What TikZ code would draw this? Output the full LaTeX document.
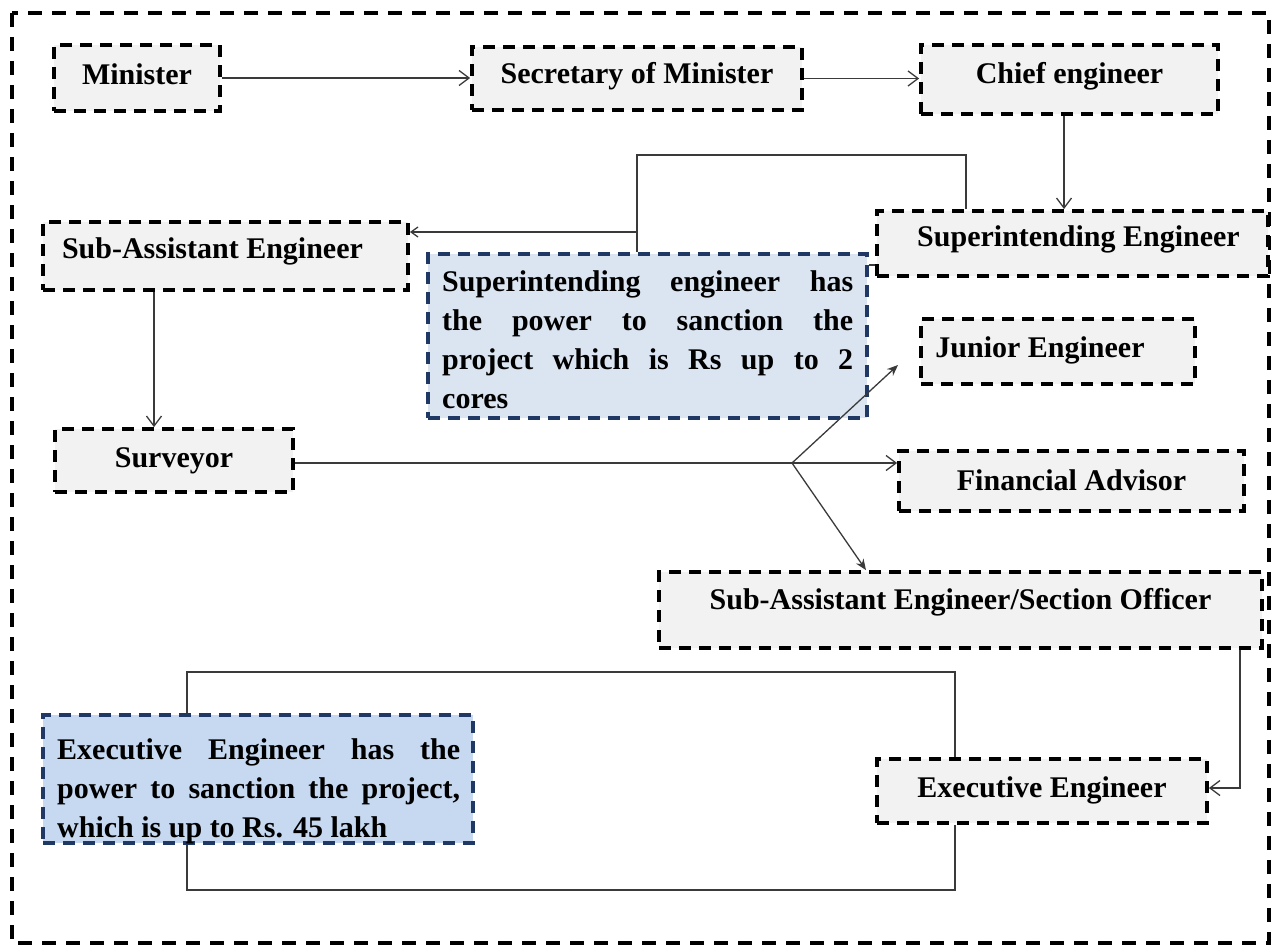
\documentclass[tikz,border=0pt]{standalone}
\usepackage{fontspec}
\setmainfont{Liberation Serif}
\usetikzlibrary{arrows.meta,calc}
\definecolor{boxgray}{HTML}{F2F2F2}
\definecolor{noteA}{HTML}{DBE5F1}
\definecolor{noteB}{HTML}{C6D9F1}
\definecolor{navy}{HTML}{1F3864}
\definecolor{linegray}{HTML}{3A3A3A}
\begin{document}
\begin{tikzpicture}[x=1pt,y=-1pt,
  gbox/.style={draw=black, line width=3.8pt, dash pattern=on 12pt off 8pt, fill=boxgray, inner sep=0pt},
  bbox/.style={draw=navy, line width=3.5pt, dash pattern=on 12pt off 8pt, fill=#1, inner sep=0pt},
  lbl/.style={font=\fontsize{30}{36}\selectfont\bfseries, inner sep=0pt},
  notetext/.style={font=\fontsize{30}{39}\selectfont\bfseries, inner sep=0pt, align=left, anchor=north west},
  conn/.style={draw=linegray, line width=1.3pt},
  arr/.style={conn, -{Straight Barb[length=10pt,width=15pt]}},
  arrs/.style={conn, -{Stealth[length=11pt,width=9pt]}},
]
\useasboundingbox (0,0) rectangle (1274,947);
\draw[line width=3.8pt, dash pattern=on 14pt off 10pt] (12,13) rectangle (1269,943);

% boxes
\node[gbox, minimum width=166pt, minimum height=66pt, label={[lbl,yshift=4pt]center:Minister}] (min) at (137,78) {};
\node[gbox, minimum width=330pt, minimum height=63pt, label={[lbl,yshift=2pt]center:Secretary of Minister}] (sec) at (637,78.5) {};
\node[gbox, minimum width=297pt, minimum height=69pt, label={[lbl,yshift=3pt]center:Chief engineer}] (chief) at (1069.5,79.5) {};
\node[gbox, minimum width=391pt, minimum height=65pt, label={[lbl,xshift=6pt,yshift=4pt]center:Superintending Engineer}] (sup) at (1072.5,243.5) {};
\node[gbox, minimum width=365pt, minimum height=68pt, label={[lbl,xshift=-13pt,yshift=5pt]center:Sub-Assistant Engineer}] (sae) at (225.5,256) {};
\node[gbox, minimum width=238pt, minimum height=63pt, label={[lbl,yshift=0pt]center:Surveyor}] (surv) at (174,460.5) {};
\node[gbox, minimum width=274pt, minimum height=65pt, label={[lbl,xshift=-18pt,yshift=1pt]center:Junior Engineer}] (jun) at (1058,351.5) {};
\node[gbox, minimum width=345pt, minimum height=60pt, label={[lbl,yshift=1pt]center:Financial Advisor}] (fin) at (1071.5,481) {};
\node[gbox, minimum width=603pt, minimum height=76pt, label={[lbl,yshift=8pt]center:Sub-Assistant Engineer/Section Officer}] (so) at (960.5,610) {};
\node[gbox, minimum width=330pt, minimum height=64pt, label={[lbl,yshift=1pt]center:Executive Engineer}] (exe) at (1042,791) {};

% note boxes
\node[bbox=noteA, minimum width=439pt, minimum height=164pt] (sn) at (647.5,336) {};
\node[notetext] (snt) at (442,270) {%
\makebox[411pt][s]{Superintending engineer has}\\
\makebox[411pt][s]{the power to sanction the}\\
\makebox[411pt][s]{project which is Rs up to 2}\\
cores};
\node[bbox=noteB, minimum width=430pt, minimum height=128pt] (en) at (258,779) {};
\node[notetext] (ent) at (57,738) {%
\makebox[403pt][s]{Executive Engineer has the}\\
\makebox[403pt][s]{power to sanction the project,}\\
which is up to Rs. 45 lakh};

% connectors
\draw[arr] (min) -- (min -| sec.west);
\draw[arr] (sec) -- (sec -| chief.west);
\draw[arr] ([xshift=-5.5pt]chief.south) -- ([xshift=-5.5pt]chief.south |- sup.north);

\coordinate (k) at (637,155);
\coordinate (j1) at (637,232);
\draw[conn] ([xshift=-106.5pt]sup.north) |- (k) -- (k |- sn.north);
\draw[conn, -{Straight Barb[length=7pt,width=10pt]}] (j1) -- (j1 -| sae.east);
\draw[conn] (sn.east |- 0,265) -- (sup.west |- 0,265);

\draw[arr] ([xshift=-71.5pt]sae.south) -- ([xshift=-71.5pt]sae.south |- surv.north);

\coordinate (br) at (792,463);
\coordinate (jt) at (898,365);
\draw[conn] (surv.east |- br) -- (br);
\draw[arr] (br) -- (br -| fin.west);
\draw[arrs] (br) -- (jt);
\draw[arrs] (br) -- ([xshift=-94.5pt]so.north);

\draw[arr] ([xshift=279.5pt]so.south) |- ([yshift=3pt]exe.east);

\coordinate (lt) at (187,672);
\coordinate (lb) at (187,890);
\draw[conn] ([xshift=-87pt]exe.north) |- (lt) -- (lt |- en.north);
\draw[conn] (lb |- en.south) -- (lb) -| ([xshift=-87pt]exe.south);
\end{tikzpicture}
\end{document}
